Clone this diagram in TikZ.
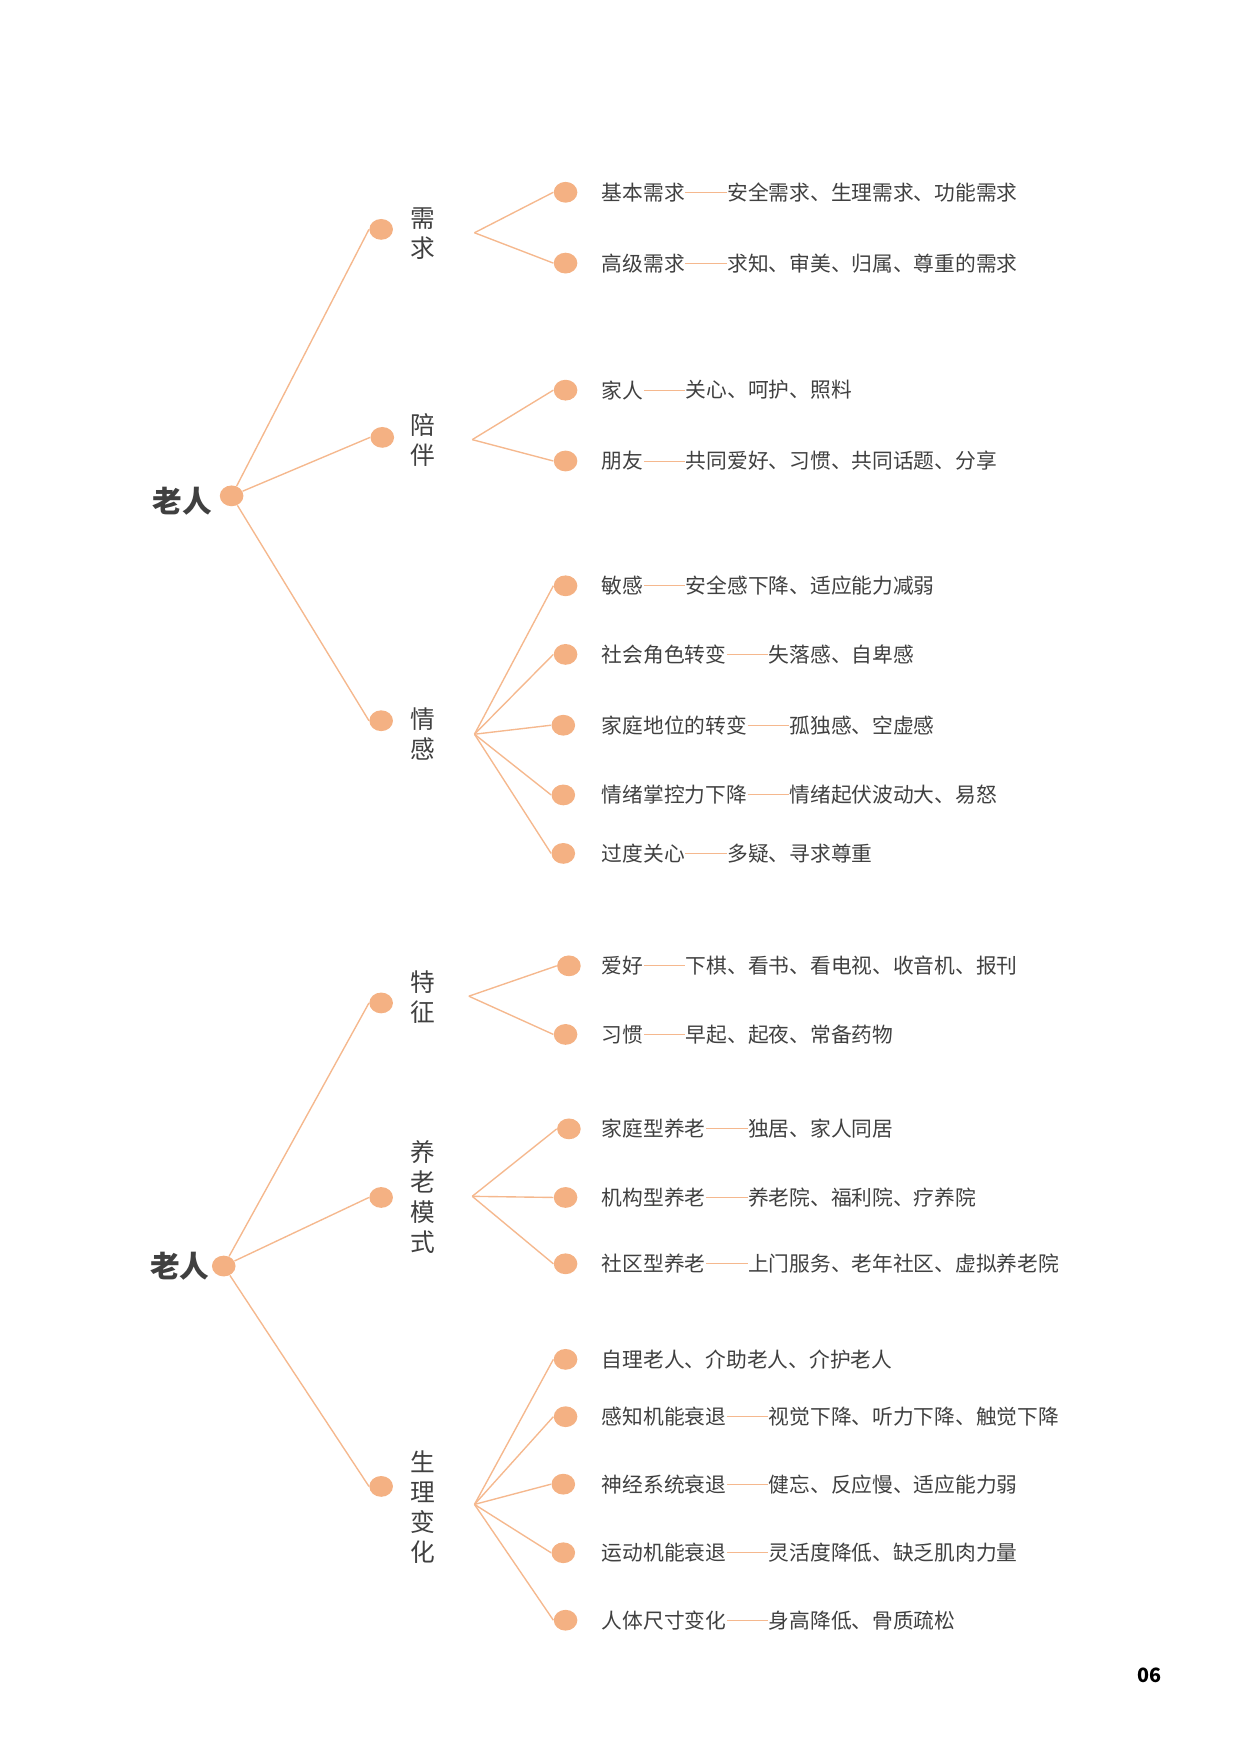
\documentclass[tikz,border=0pt]{standalone}
\usepackage{fontspec}
\usetikzlibrary{shapes.geometric}
\setmainfont{Noto Sans CJK SC}
\begin{document}
\begin{tikzpicture}[x=0.02cm,y=-0.02cm,
  dot/.style={ellipse,fill=dotc,minimum width=0.42cm,minimum height=0.37cm,inner sep=0},
  ln/.style={draw=linec,line width=0.7pt},
  thin/.style={draw=linec,line width=0.5pt},
  root/.style={font=\fontsize{15pt}{18pt}\selectfont\bfseries,text=txt},
  mid/.style={font=\fontsize{12.5pt}{15.2pt}\selectfont,text=txt,align=center,inner sep=0},
  key/.style={font=\fontsize{10.5pt}{12pt}\selectfont,text=txt,anchor=west,inner sep=0},
  val/.style={font=\fontsize{10.5pt}{12pt}\selectfont,text=txt,anchor=west,inner sep=0}]
\definecolor{dotc}{HTML}{F4B183}
\definecolor{linec}{HTML}{F5B88E}
\definecolor{txt}{HTML}{404040}
\useasboundingbox (0,0) rectangle (1103,1560);
% leaf macro
\def\leaf#1#2#3#4#5{\node[dot] (#1) at (#2,#3) {};
  \node[key] (#1k) at (535,#3) {#4};
  \if\relax\detokenize{#5}\relax\else
  \node[val] (#1v) at ([xshift=37*0.02cm]#1k.east) {#5};
  \draw[thin] (#1k.east) -- (#1v.west);\fi}
% ===== top tree
\node[dot] (r1) at (206,441) {};
\node[root] (r1l) at (162,446) {老人};
\node[dot] (a) at (339,204) {};
\node[dot] (b) at (340,389) {};
\node[dot] (c) at (339,641) {};
\node[mid] (al) at (376,208) {需\\求};
\node[mid] (bl) at (376,391) {陪\\伴};
\node[mid] (cl) at (376,653) {情\\感};
\draw[ln] (r1) -- (a.west); \draw[ln] (r1) -- (b.west); \draw[ln] (r1) -- (c.west);
\coordinate (fa) at (422,207);
\coordinate (fb) at (420,391);
\coordinate (fc) at (422,653);
\leaf{a1}{503}{171}{基本需求}{安全需求、生理需求、功能需求}
\leaf{a2}{503}{234}{高级需求}{求知、审美、归属、尊重的需求}
\leaf{b1}{503}{347}{家人}{关心、呵护、照料}
\leaf{b2}{503}{410}{朋友}{共同爱好、习惯、共同话题、分享}
\leaf{c1}{503}{521}{敏感}{安全感下降、适应能力减弱}
\leaf{c2}{503}{582}{社会角色转变}{失落感、自卑感}
\leaf{c3}{501}{645}{家庭地位的转变}{孤独感、空虚感}
\leaf{c4}{501}{707}{情绪掌控力下降}{情绪起伏波动大、易怒}
\leaf{c5}{501}{759}{过度关心}{多疑、寻求尊重}
\foreach \n in {a1,a2} \draw[ln] (fa) -- (\n.west);
\foreach \n in {b1,b2} \draw[ln] (fb) -- (\n.west);
\foreach \n in {c1,c2,c3,c4,c5} \draw[ln] (fc) -- (\n.west);
% ===== bottom tree
\node[dot] (r2) at (199,1126) {};
\node[root] (r2l) at (160,1126) {老人};
\node[dot] (d) at (339,892) {};
\node[dot] (e) at (339,1065) {};
\node[dot] (f) at (339,1322) {};
\node[mid] (dl) at (376,887) {特\\征};
\node[mid] (el) at (376,1065) {养\\老\\模\\式};
\node[mid] (fl) at (376,1340) {生\\理\\变\\化};
\draw[ln] (r2) -- (d.west); \draw[ln] (r2) -- (e.west); \draw[ln] (r2) -- (f.west);
\coordinate (fd) at (417,886);
\coordinate (fe) at (420,1064);
\coordinate (ff) at (422,1338);
\leaf{d1}{506}{859}{爱好}{下棋、看书、看电视、收音机、报刊}
\leaf{d2}{503}{920}{习惯}{早起、起夜、常备药物}
\leaf{e1}{506}{1004}{家庭型养老}{独居、家人同居}
\leaf{e2}{503}{1065}{机构型养老}{养老院、福利院、疗养院}
\leaf{e3}{503}{1124}{社区型养老}{上门服务、老年社区、虚拟养老院}
\leaf{f1}{503}{1209}{自理老人、介助老人、介护老人}{}
\leaf{f2}{503}{1260}{感知机能衰退}{视觉下降、听力下降、触觉下降}
\leaf{f3}{501}{1320}{神经系统衰退}{健忘、反应慢、适应能力弱}
\leaf{f4}{501}{1381}{运动机能衰退}{灵活度降低、缺乏肌肉力量}
\leaf{f5}{503}{1441}{人体尺寸变化}{身高降低、骨质疏松}
\foreach \n in {d1,d2} \draw[ln] (fd) -- (\n.west);
\foreach \n in {e1,e2,e3} \draw[ln] (fe) -- (\n.west);
\foreach \n in {f1,f2,f3,f4,f5} \draw[ln] (ff) -- (\n.west);
\node[font=\fontsize{10pt}{12pt}\selectfont\bfseries,text=black] (pg) at (1022,1490) {06};
\end{tikzpicture}
\end{document}
